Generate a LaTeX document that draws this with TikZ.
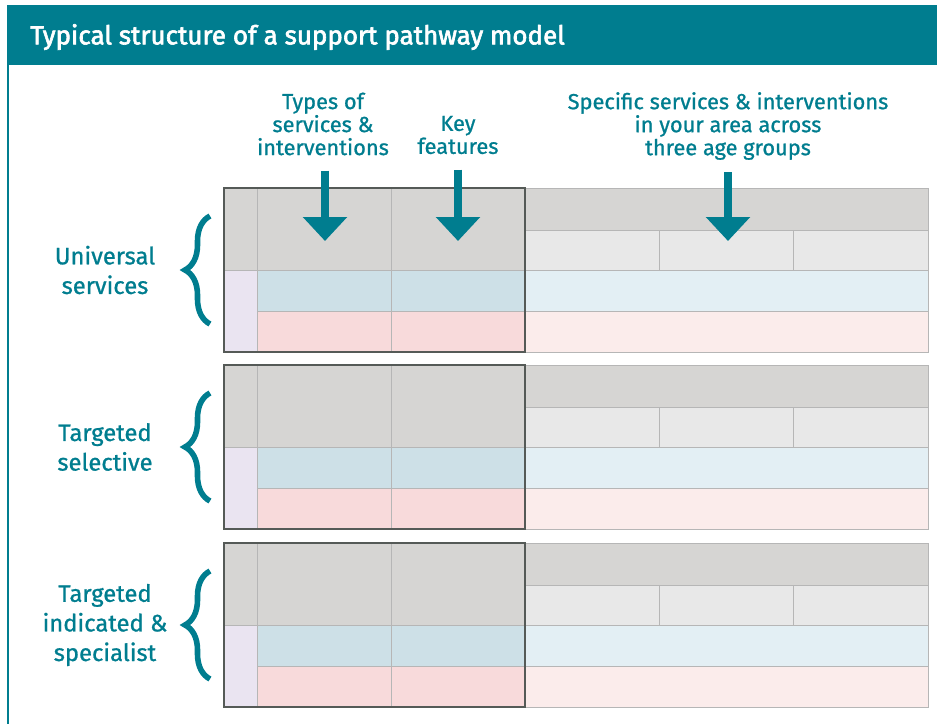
\documentclass[tikz,border=0pt]{standalone}
\usepackage{fontspec}
\setmainfont{Fira Sans}
\newfontfamily\medfont{Fira Sans}[FakeBold=0.9]
\newfontfamily\titlefont{Fira Sans}[FakeBold=2.4]
\usetikzlibrary{positioning,decorations.pathreplacing,arrows.meta}

\definecolor{pathteal}{RGB}{0,125,143}
\definecolor{cellgray}{RGB}{214,213,211}
\definecolor{cellpale}{RGB}{232,232,232}
\definecolor{cellblue}{RGB}{205,224,231}
\definecolor{paleblue}{RGB}{227,239,244}
\definecolor{cellpink}{RGB}{248,218,219}
\definecolor{palepink}{RGB}{251,236,235}
\definecolor{celllilac}{RGB}{234,228,241}
\definecolor{gridgray}{RGB}{182,182,182}
\definecolor{framegray}{RGB}{85,90,87}

\begin{document}
\begin{tikzpicture}[x=0.5pt,y=-0.5pt,
  head/.style  ={font=\medfont\fontsize{10.9}{11.5}\selectfont,text=pathteal,align=center,inner sep=0pt},
  level/.style ={font=\medfont\fontsize{11.9}{14.8}\selectfont,text=pathteal,align=center,inner sep=0pt},
  grid/.style  ={draw=gridgray,line width=0.5pt},
  frame/.style ={draw=framegray,line width=1.25pt},
  down/.style  ={pathteal,line width=4pt,-{Triangle[width=21.5pt,length=12pt]}},
  curly/.style ={pathteal,line width=2.8pt,decorate,decoration={brace,amplitude=12.5pt}}
]
  \useasboundingbox (0,0) rectangle (937,724);

  % ----- title bar and panel edge -----
  \fill[pathteal] (7,5) rectangle (937,65);
  \draw[pathteal,line width=0.6pt] (8,65) -- (8,724);
  \node[font=\titlefont\fontsize{13}{15}\selectfont,text=white,anchor=west,inner sep=0pt]
    (title) at (30,37) {Typical structure of a support pathway model};

  % ----- column headings -----
  \node[head] (types) at (323,124) {Types of\\services \&\\interventions};
  \node[head] (keyf)  at (458,135) {Key\\features};
  \node[head] (local) at (728,126) {Specific services \& interventions\\in your area across\\three age groups};

  % ----- the three levels -----
  \foreach \top/\name/\txt in {188/uni/{Universal\\services},
                               365/sel/{Targeted\\selective},
                               543/ind/{Targeted\\indicated \&\\specialist}}{
    % fills
    \fill[cellgray]  (224,\top) rectangle (525,\top+82);
    \fill[celllilac] (224,\top+82) rectangle (257,\top+164);
    \fill[cellblue]  (257,\top+82) rectangle (525,\top+123);
    \fill[cellpink]  (257,\top+123) rectangle (525,\top+164);
    \fill[cellgray]  (525,\top) rectangle (928,\top+42);
    \fill[cellpale]  (525,\top+42) rectangle (928,\top+82);
    \fill[paleblue]  (525,\top+82) rectangle (928,\top+123);
    \fill[palepink]  (525,\top+123) rectangle (928,\top+164);
    % thin grid
    \draw[grid] (257,\top) -- (257,\top+164) (391,\top) -- (391,\top+164);
    \draw[grid] (659,\top+42) -- (659,\top+82) (793,\top+42) -- (793,\top+82);
    \draw[grid] (224,\top+82) -- (928,\top+82) (257,\top+123) -- (928,\top+123);
    \draw[grid] (525,\top+42) -- (928,\top+42);
    \draw[grid] (525,\top) rectangle (928,\top+164);
    \draw[frame] (224,\top) rectangle (525,\top+164);
    % label and brace
    \node[level] (\name) at (105,\top+82) {\txt};
    \draw[curly] (210,\top+136) -- (210,\top+28);
  }

  % ----- arrows into the table -----
  \coordinate (t1) at (325,241);
  \coordinate (t2) at (458,241);
  \coordinate (t3) at (728,241);
  \draw[down,shorten <=7.5pt] (types.south -| t1) -- (t1);
  \draw[down,shorten <=7.5pt] (keyf.south -| t2) -- (t2);
  \draw[down,shorten <=6pt]   (local.south -| t3) -- (t3);
\end{tikzpicture}
\end{document}
